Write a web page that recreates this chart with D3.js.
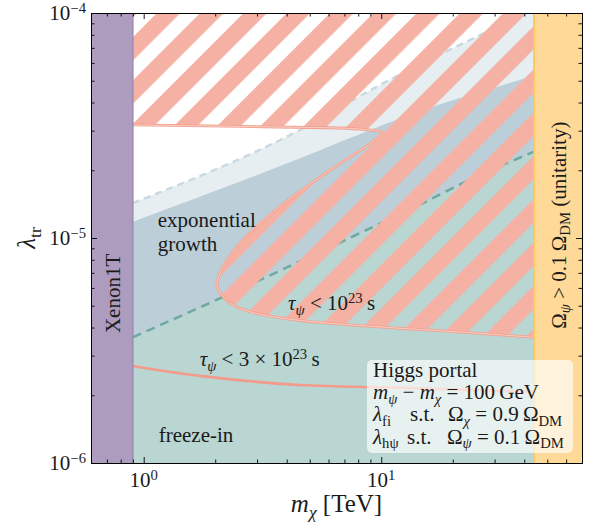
<!DOCTYPE html>
<html>
<head>
<meta charset="utf-8">
<script src="https://cdn.jsdelivr.net/npm/d3@7/dist/d3.min.js"></script>
<style>
body { margin: 0; background: #fff; }
svg text { font-family: "Liberation Serif", "DejaVu Serif", serif; fill: #1a1a1a; }
</style>
</head>
<body>
<div id="graph"></div>
<script>
// boundaries, points are [m_chi in TeV, lambda_tr]
var xenonLimit = 0.9;
var unitarityLimit = 44;
var lightEdge = [[0.9, 1.43e-5], [4.55, 3.02e-5], [9.9, 4.79e-5], [27.9, 8.26e-5], [40.5, 1e-4]];
var growthEdge = [[0.9, 1.18e-5], [4.55, 2.26e-5], [9.9, 3.15e-5], [15, 3.71e-5], [29.7, 4.64e-5], [44, 5.27e-5]];
var freezeEdge = [[0.9, 3.62e-6], [2.09, 5.39e-6], [9.9, 1.16e-5], [15, 1.43e-5], [22.2, 1.76e-5], [44, 2.42e-5]];
var tau1Curve = [[0.9, 3.18e-5], [3.19, 3.12e-5], [8.42, 3.04e-5], [10.07, 2.94e-5], [9.59, 2.77e-5],
	[6.09, 2.0e-5], [3.75, 1.38e-5], [2.54, 9.46e-6], [2.09, 6.96e-6], [2.04, 6.08e-6],
	[2.31, 5.13e-6], [2.80, 4.70e-6], [4.41, 4.32e-6], [11.6, 3.98e-6], [20.8, 3.83e-6], [44, 3.62e-6]];
var tau3Curve = [[0.9, 2.70e-6], [1.72, 2.44e-6], [4.55, 2.22e-6], [12, 2.16e-6], [44, 2.07e-6]];
var xDomain = [0.6, 70];
var yDomain = [1e-6, 1e-4];
var xTickLabels = [[1, "0"], [10, "1"]];
var yTickLabels = [[1e-4, "\u22124"], [1e-5, "\u22125"], [1e-6, "\u22126"]];

// legend lines: [text, kind, x offset]
var legendLines = [
	[["Higgs portal"]],
	[["m", "it"], ["\u03c8", "sub it"], [" \u2212 "], ["m", "it"], ["\u03c7", "sub it"], [" = 100\u2009GeV"]],
	[["\u03bb", "it"], ["fi", "sub"], ["s.t.", "", 37], ["\u03a9", "", 75], ["\u03c7", "sub it"], [" = 0.9\u2009\u03a9"], ["DM", "sub"]],
	[["\u03bb", "it"], ["h\u03c8", "sub"], ["s.t.", "", 34], ["\u03a9", "", 74], ["\u03c8", "sub it"], [" = 0.1\u2009\u03a9"], ["DM", "sub"]]
];

var svgWidth = 589, svgHeight = 523;
var margin = {top: 13, right: 7, bottom: 60, left: 91};
var width = svgWidth - margin.left - margin.right;
var height = svgHeight - margin.top - margin.bottom;

var xScale = d3.scaleLog().domain(xDomain).range([0, width]);
var yScale = d3.scaleLog().domain(yDomain).range([height, 0]);

var edgeLine = d3.line()
	.x(function(d) { return xScale(d[0]); })
	.y(function(d) { return yScale(d[1]); })
	.curve(d3.curveMonotoneX);
var smoothLine = d3.line()
	.x(function(d) { return xScale(d[0]); })
	.y(function(d) { return yScale(d[1]); })
	.curve(d3.curveCatmullRom.alpha(0.5));

// region below an edge, closed along the bottom
function regionBelow(edge) {
	var last = edge[edge.length - 1];
	return edgeLine(edge) + "L" + xScale(last[0]) + "," + yScale(yDomain[0]) +
		"L" + xScale(edge[0][0]) + "," + yScale(yDomain[0]) + "Z";
}

// mixed text with italics, sub- and superscripts
function richText(sel, parts, size) {
	var shift = 0;
	parts.forEach(function(p) {
		var kind = p[1] || "";
		var target = kind.indexOf("sub") >= 0 ? 0.22 * size : (kind.indexOf("sup") >= 0 ? -0.33 * size : 0);
		var t = sel.append("tspan")
			.attr("dy", (target - shift).toFixed(2))
			.style("font-size", (target ? 0.7 * size : size) + "px")
			.text(p[0]);
		if (kind.indexOf("it") >= 0) t.style("font-style", "italic");
		if (p[2] != null) t.attr("x", p[2]);
		shift = target;
	});
}

var svg = d3.select("#graph").append("svg")
	.attr("width", svgWidth)
	.attr("height", svgHeight)
	.append("g")
	.attr("transform", "translate(" + margin.left + "," + margin.top + ")");

// hatch for tau < 1e23 s
var hatchPeriod = 43.3, hatchPink = 23.4, hatchStart = 213.3;
var hatchOffset = ((hatchStart - margin.left - margin.top) % hatchPeriod + hatchPeriod) % hatchPeriod;
var pattern = svg.append("defs").append("pattern")
	.attr("id", "hatch")
	.attr("patternUnits", "userSpaceOnUse")
	.attr("width", hatchPeriod / Math.SQRT2)
	.attr("height", 10)
	.attr("patternTransform", "rotate(45) translate(" + (hatchOffset / Math.SQRT2) + ",0)");
pattern.append("rect")
	.attr("width", hatchPink / Math.SQRT2)
	.attr("height", 10)
	.style("fill", "#f5b1a3");

svg.append("clipPath").attr("id", "plotClip")
	.append("rect").attr("width", width).attr("height", height);

var plot = svg.append("g").attr("clip-path", "url(#plotClip)");

// background regions
plot.append("path")
	.attr("d", edgeLine(lightEdge) + "L" + xScale(unitarityLimit) + "," + yScale(yDomain[1]) +
		"L" + xScale(unitarityLimit) + "," + yScale(yDomain[0]) + "L" + xScale(lightEdge[0][0]) + "," + yScale(yDomain[0]) + "Z")
	.style("fill", "#e6eef2");
plot.append("path").attr("d", regionBelow(growthEdge)).style("fill", "#bccfd9");
plot.append("path").attr("d", regionBelow(freezeEdge)).style("fill", "#b9d6d2");

plot.append("path")
	.attr("d", edgeLine(lightEdge))
	.style("fill", "none").style("stroke", "#c9d9e0").style("stroke-width", 2.5)
	.style("stroke-dasharray", "7,5");
plot.append("path")
	.attr("d", edgeLine(freezeEdge))
	.style("fill", "none").style("stroke", "#6ea89e").style("stroke-width", 2.5)
	.style("stroke-dasharray", "9,6");

// hatched region above the tau curve
var tauPath = smoothLine(tau1Curve);
plot.append("path")
	.attr("d", "M" + xScale(xenonLimit) + "," + yScale(yDomain[1]) + "L" + tauPath.slice(1) +
		"L" + xScale(unitarityLimit) + "," + yScale(yDomain[1]) + "Z")
	.style("fill", "url(#hatch)");
plot.append("path").attr("d", tauPath)
	.style("fill", "none").style("stroke", "#f3a190").style("stroke-width", 2.8);
plot.append("path").attr("d", tauPath)
	.style("fill", "none").style("stroke", "#f9d2c9").style("stroke-width", 0.9);
plot.append("path").attr("d", smoothLine(tau3Curve))
	.style("fill", "none").style("stroke", "#f39a8b").style("stroke-width", 2.6);

// excluded bands
plot.append("rect")
	.attr("x", xScale(xDomain[0])).attr("y", 0)
	.attr("width", xScale(xenonLimit) - xScale(xDomain[0])).attr("height", height)
	.style("fill", "#ad9cbe");
plot.append("line")
	.attr("x1", xScale(xenonLimit)).attr("x2", xScale(xenonLimit)).attr("y1", 0).attr("y2", height)
	.style("stroke", "#9c89b4").style("stroke-width", 1.5);
plot.append("rect")
	.attr("x", xScale(unitarityLimit)).attr("y", 0)
	.attr("width", xScale(xDomain[1]) - xScale(unitarityLimit)).attr("height", height)
	.style("fill", "#fed998");
plot.append("line")
	.attr("x1", xScale(unitarityLimit)).attr("x2", xScale(unitarityLimit)).attr("y1", 0).attr("y2", height)
	.style("stroke", "#fdc765").style("stroke-width", 2);

// annotations
var fs = 21;
svg.append("text").attr("x", xScale(1.146)).attr("y", yScale(1.12e-5)).style("font-size", fs + "px").text("exponential");
svg.append("text").attr("x", xScale(1.146)).attr("y", yScale(8.75e-6)).style("font-size", fs + "px").text("growth");
svg.append("text").attr("x", xScale(1.157)).attr("y", yScale(1.245e-6)).style("font-size", fs + "px").text("freeze-in");
richText(svg.append("text").attr("x", xScale(4.05)).attr("y", yScale(4.79e-6)),
	[["\u03c4", "it"], ["\u03c8", "sub it"], [" < 10"], ["23", "sup"], ["\u2009s"]], fs);
richText(svg.append("text").attr("x", xScale(1.72)).attr("y", yScale(2.70e-6)),
	[["\u03c4", "it"], ["\u03c8", "sub it"], [" < 3 \u00d7 10"], ["23", "sup"], ["\u2009s"]], fs);
svg.append("text")
	.attr("transform", "translate(" + xScale(0.74) + "," + yScale(5.67e-6) + ") rotate(-90)")
	.attr("text-anchor", "middle").attr("dominant-baseline", "central")
	.style("font-size", fs + "px").text("Xenon1T");
richText(svg.append("text")
	.attr("transform", "translate(" + (xScale(55.8) + 7) + "," + yScale(1.14e-5) + ") rotate(-90)")
	.attr("text-anchor", "middle"),
	[["\u03a9"], ["\u03c8", "sub it"], [" > 0.1\u2009\u03a9"], ["DM", "sub"], [" (unitarity)"]], fs);

// legend box
var legend = svg.append("g").attr("transform", "translate(276,347)");
legend.append("rect").attr("width", 206).attr("height", 93).attr("rx", 5)
	.style("fill", "#fff").style("fill-opacity", 0.65);
legendLines.forEach(function(parts, i) {
	var t = legend.append("text").attr("x", 6).attr("y", 17 + i * 22.2);
	richText(t, parts.map(function(p) { return p[2] != null ? [p[0], p[1], 6 + p[2]] : p; }), fs);
});

// axes with inward ticks on all sides
function isMajor(d) { var l = Math.log10(d); return Math.abs(l - Math.round(l)) < 1e-9; }
var xMinor = xScale.ticks().filter(function(d) { return !isMajor(d); });
var xMajor = xScale.ticks().filter(isMajor);
var yMinor = yScale.ticks().filter(function(d) { return !isMajor(d); });
var yMajor = yScale.ticks().filter(isMajor);

function drawAxis(axisFn, scale, ticks, size, transform) {
	var g = svg.append("g").attr("transform", transform)
		.call(axisFn(scale).tickValues(ticks).tickSize(-size).tickSizeOuter(0).tickFormat(""));
	g.selectAll("line").style("stroke", "#000").style("stroke-width", 0.9);
	g.select(".domain").style("stroke", "#000").style("stroke-width", 1);
}
drawAxis(d3.axisBottom, xScale, xMinor, 3.5, "translate(0," + height + ")");
drawAxis(d3.axisBottom, xScale, xMajor, 6, "translate(0," + height + ")");
drawAxis(d3.axisTop, xScale, xMinor, 3.5, "translate(0,0)");
drawAxis(d3.axisTop, xScale, xMajor, 6, "translate(0,0)");
drawAxis(d3.axisLeft, yScale, yMinor, 3.5, "translate(0,0)");
drawAxis(d3.axisLeft, yScale, yMajor, 6, "translate(0,0)");
drawAxis(d3.axisRight, yScale, yMinor, 3.5, "translate(" + width + ",0)");
drawAxis(d3.axisRight, yScale, yMajor, 6, "translate(" + width + ",0)");

xTickLabels.forEach(function(d) {
	richText(svg.append("text").attr("x", xScale(d[0])).attr("y", height + 24).attr("text-anchor", "middle"),
		[["10"], [d[1], "sup"]], fs);
});
yTickLabels.forEach(function(d) {
	richText(svg.append("text").attr("x", -5).attr("y", yScale(d[0]) + 7).attr("text-anchor", "end"),
		[["10"], [d[1], "sup"]], fs);
});

// axis titles
richText(svg.append("text").attr("x", width / 2).attr("y", height + 49).attr("text-anchor", "middle"),
	[["m", "it"], ["\u03c7", "sub it"], [" [TeV]"]], 25);
richText(svg.append("text")
	.attr("transform", "translate(" + (-56) + "," + (height / 2) + ") rotate(-90)")
	.attr("text-anchor", "middle"),
	[["\u03bb", "it"], ["tr", "sub"]], 25);
</script>
</body>
</html>
